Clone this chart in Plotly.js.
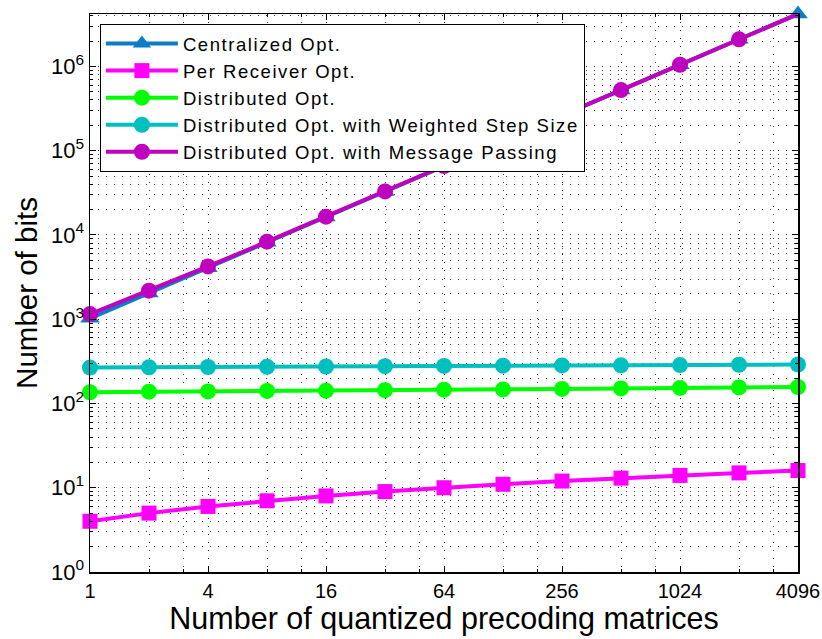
<!DOCTYPE html>
<html>
<head>
<meta charset="utf-8">
<script src="https://cdn.plot.ly/plotly-3.0.1.min.js"></script>
<style>
html,body{margin:0;padding:0;background:#fff;}
#chart{width:822px;height:639px;}
text.legendtext{letter-spacing:1.55px;}
</style>
</head>
<body>
<div id="chart"></div>
<script>
// ---- data ----
const numMatrices = [1, 2, 4, 8, 16, 32, 64, 128, 256, 512, 1024, 2048, 4096];
const centralizedOpt = [1024, 2048, 4096, 8192, 16384, 32768, 65536, 131072, 262144, 524288, 1048576, 2097152, 4194304];
const perReceiverOpt = [4, 5, 6, 7, 8, 9, 10, 11, 12, 13, 14, 15, 16];
const distributedOpt = [136, 138, 139, 141, 142, 144, 146, 147, 149, 151, 153, 155, 157];
const weightedStepOpt = [267, 269, 271, 273, 275, 277, 279, 281, 283, 284, 286, 288, 290];
const messagePassingOpt = [1150, 2180, 4230, 8320, 16500, 32900, 65700, 131200, 262300, 524400, 1048700, 2097300, 4194400];
const seriesNames = ["Centralized Opt.", "Per Receiver Opt.", "Distributed Opt.",
  "Distributed Opt. with Weighted Step Size", "Distributed Opt. with Message Passing"];
const xTickVals = [1, 4, 16, 64, 256, 1024, 4096];
const xMinorVals = [2, 3, 8, 12, 32, 48, 128, 192, 512, 768, 2048, 3072];
const yTickVals = [1, 10, 100, 1000, 10000, 100000, 1000000];
const yTickText = ["10<sup>0</sup>", "10<sup>1</sup>", "10<sup>2</sup>", "10<sup>3</sup>", "10<sup>4</sup>", "10<sup>5</sup>", "10<sup>6</sup>"];

const yMinorVals = [];
for (let d = 1; d <= 1e6; d *= 10) {
  for (let m = 2; m <= 9; m++) yMinorVals.push(m * d);
}

const colors = ["#0b7dc6", "#ff00ff", "#00ff00", "#00bfbf", "#bf00bf"];
const symbols = ["triangle-up", "square", "circle", "circle", "circle"];
const sizes = [17, 15, 16, 16, 16];
const ys = [centralizedOpt, perReceiverOpt, distributedOpt, weightedStepOpt, messagePassingOpt];

const traces = ys.map((y, i) => ({
  x: numMatrices,
  y: y,
  name: seriesNames[i],
  type: "scatter",
  mode: "lines+markers",
  cliponaxis: false,
  line: {color: colors[i], width: 4},
  marker: {symbol: symbols[i], size: sizes[i], color: colors[i], line: {width: 0}}
}));

const gridDash = "1px,7px";
const FONT = "Liberation Sans, Arial, Helvetica, sans-serif";

const layout = {
  width: 822,
  height: 639,
  margin: {l: 90, r: 24, t: 14, b: 67},
  paper_bgcolor: "#fff",
  plot_bgcolor: "#fff",
  font: {family: FONT, color: "#000"},
  showlegend: true,
  legend: {
    x: 0.014, y: 0.982, xanchor: "left", yanchor: "top",
    bgcolor: "#fff", bordercolor: "#000", borderwidth: 1,
    font: {family: FONT, size: 18.5, color: "#000"},
    itemwidth: 72,
    tracegroupgap: 0
  },
  xaxis: {
    type: "log",
    range: [0, Math.log10(4096)],
    tickmode: "array",
    tickvals: xTickVals,
    ticktext: xTickVals.map(String),
    tickfont: {size: 20, family: FONT},
    ticks: "inside", ticklen: 6, tickcolor: "#000", tickwidth: 1,
    showline: true, linecolor: "#000", linewidth: 1.5, mirror: "ticks",
    showgrid: true, gridcolor: "#222", gridwidth: 1, griddash: gridDash,
    zeroline: false,
    minor: {tickmode: "array", tickvals: xMinorVals, ticks: "inside", ticklen: 3,
            tickcolor: "#000", showgrid: true, gridcolor: "#444", gridwidth: 1, griddash: gridDash},
    title: {text: "Number of quantized precoding matrices", font: {size: 30.5, family: FONT}, standoff: 4},
    automargin: false
  },
  yaxis: {
    type: "log",
    range: [0, Math.log10(4194304)],
    tickmode: "array",
    tickvals: yTickVals,
    ticktext: yTickText,
    tickfont: {size: 22, family: FONT},
    ticks: "inside", ticklen: 6, tickcolor: "#000", tickwidth: 1,
    showline: true, linecolor: "#000", linewidth: 1.5, mirror: "ticks",
    showgrid: true, gridcolor: "#222", gridwidth: 1, griddash: gridDash,
    zeroline: false,
    minor: {tickmode: "array", tickvals: yMinorVals, ticks: "inside", ticklen: 3,
            tickcolor: "#000", showgrid: true, gridcolor: "#444", gridwidth: 1, griddash: gridDash},
    title: {text: "Number of bits", font: {size: 29.5, family: FONT}, standoff: 4},
    automargin: false
  }
};

Plotly.newPlot("chart", traces, layout, {displayModeBar: false, staticPlot: true});
</script>
</body>
</html>
